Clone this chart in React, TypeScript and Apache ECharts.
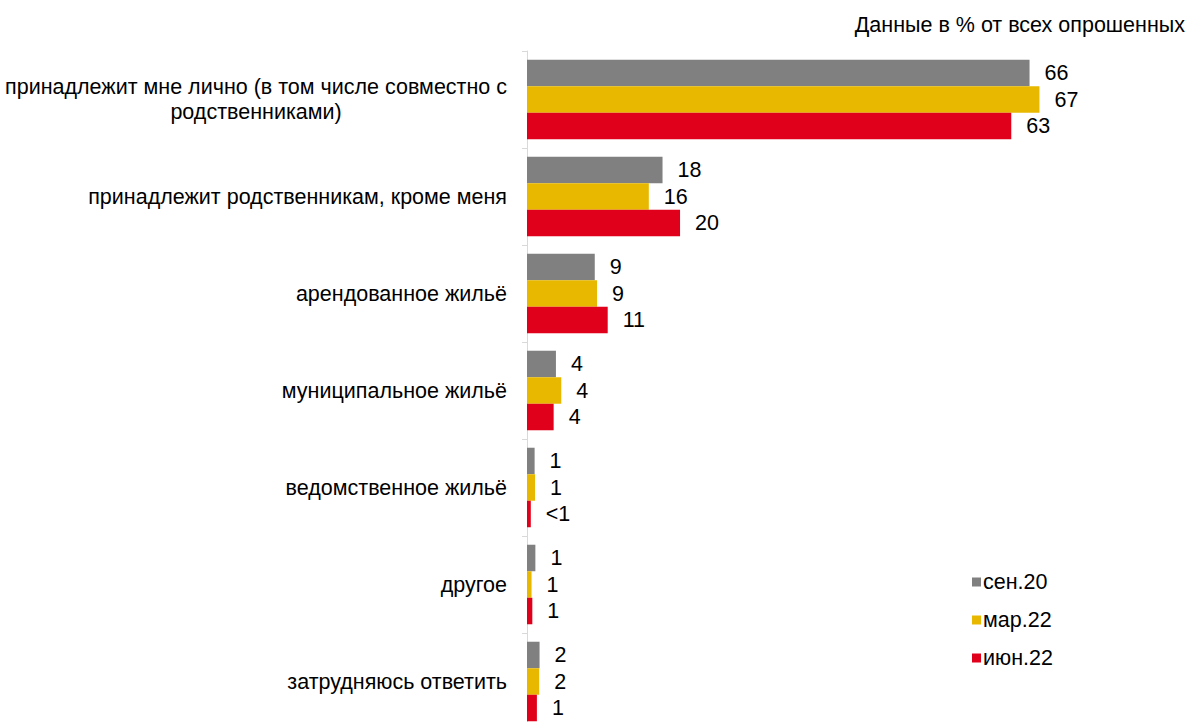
import React, { useEffect, useRef } from "react";
import * as echarts from "echarts";

const categories = [
  "принадлежит мне лично (в том числе совместно с\nродственниками)",
  "принадлежит родственникам, кроме меня",
  "арендованное жильё",
  "муниципальное жильё",
  "ведомственное жильё",
  "другое",
  "затрудняюсь ответить",
];
const seriesNames = ["сен.20", "мар.22", "июн.22"];
const colors = ["#808080", "#E8B800", "#E0001B"];
const sep20 = [66, 17.8, 8.9, 3.8, 1.0, 1.1, 1.65];
const mar22 = [67.3, 16, 9.2, 4.5, 1.05, 0.6, 1.6];
const jun22 = [63.6, 20.1, 10.6, 3.5, 0.5, 0.7, 1.3];
const sep20Labels = ["66", "18", "9", "4", "1", "1", "2"];
const mar22Labels = ["67", "16", "9", "4", "1", "1", "2"];
const jun22Labels = ["63", "20", "11", "4", "<1", "1", "1"];

const FONT = "Liberation Sans, Arial, sans-serif";
const FS = 21.5;

export default function App() {
  const ref = useRef<HTMLDivElement>(null);
  useEffect(() => {
    if (!ref.current) return;
    const chart = echarts.init(ref.current, null, { renderer: "svg" });
    const values = [sep20, mar22, jun22];
    const labels = [sep20Labels, mar22Labels, jun22Labels];
    chart.setOption({
      animation: false,
      textStyle: { fontFamily: FONT },
      title: {
        text: "Данные в % от всех опрошенных",
        right: 0,
        top: 9,
        textStyle: { fontFamily: FONT, fontSize: FS, fontWeight: "normal", color: "#000" },
      },
      legend: {
        orient: "vertical",
        left: 967,
        top: 566,
        itemWidth: 9,
        itemHeight: 9,
        itemGap: 16,
        icon: "rect",
        textStyle: { fontFamily: FONT, fontSize: FS, color: "#000", padding: [0, 0, 0, -3] },
        data: seriesNames,
      },
      grid: { left: 527, top: 51, width: 533, height: 679, containLabel: false },
      xAxis: { type: "value", min: 0, max: 70, show: false },
      yAxis: {
        type: "category",
        inverse: true,
        data: categories,
        axisLine: { show: true, lineStyle: { color: "#D9D9D9", width: 1 } },
        axisTick: { show: true, length: 5, lineStyle: { color: "#D9D9D9" } },
        axisLabel: {
          margin: 20,
          color: "#000",
          fontFamily: FONT,
          fontSize: FS,
          lineHeight: 25,
          formatter: (v: string) =>
            v.split("\n").map((l) => "{c|" + l + "}").join("\n"),
          rich: {
            c: { align: "center", fontFamily: FONT, fontSize: FS, lineHeight: 25, color: "#000" },
          },
        },
      },
      series: seriesNames.map((name, si) => ({
        name,
        type: "bar",
        data: values[si],
        barGap: "0%",
        barCategoryGap: "18%",
        itemStyle: { color: colors[si] },
        label: {
          show: true,
          position: "right",
          distance: 15,
          color: "#000",
          fontFamily: FONT,
          fontSize: FS,
          formatter: (p: any) => labels[si][p.dataIndex],
        },
      })),
    });
    return () => chart.dispose();
  }, []);
  return (
    <div
      style={{ position: "absolute", left: 0, top: 0, width: 1190, height: 722, overflow: "hidden", background: "#fff" }}
    >
      <div ref={ref} style={{ width: 1190, height: 740 }} />
    </div>
  );
}
